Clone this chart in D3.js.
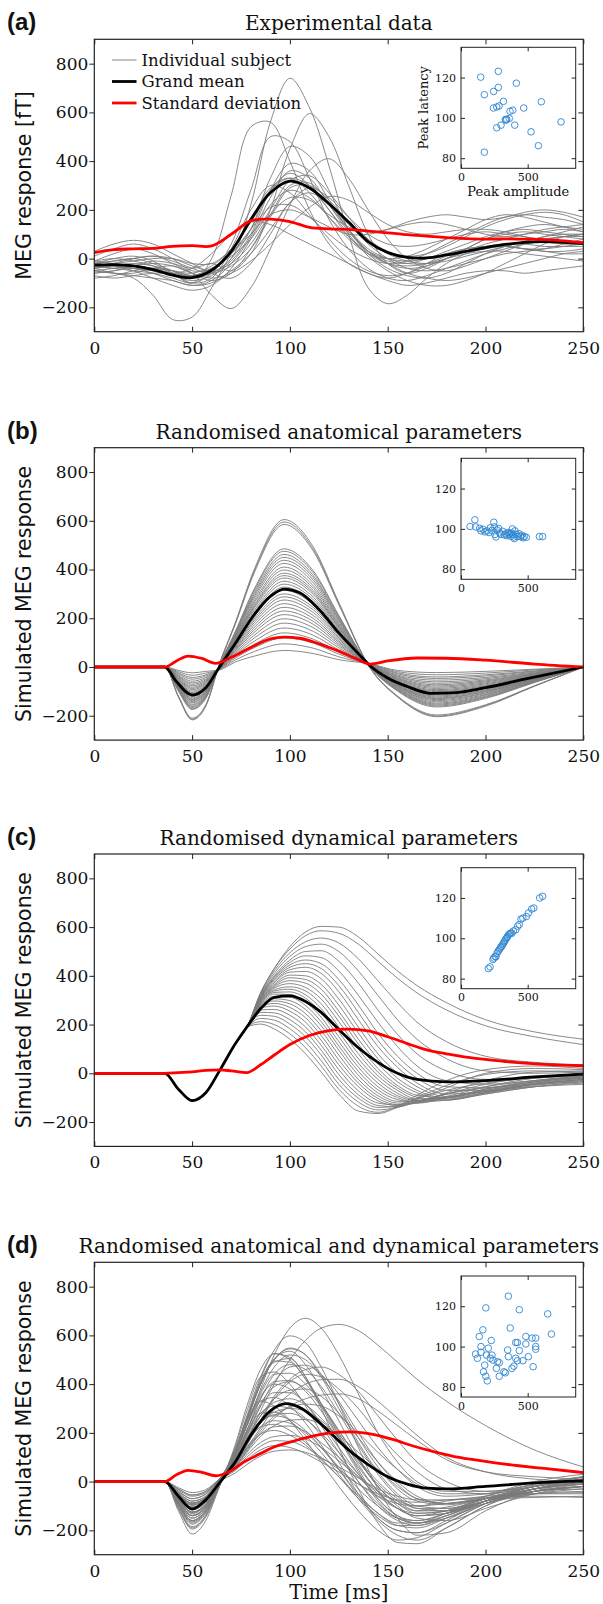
<!DOCTYPE html>
<html>
<head>
<meta charset="utf-8">
<script src="https://cdnjs.cloudflare.com/ajax/libs/d3/7.8.5/d3.min.js"></script>
<style>
  body { margin: 0; background: #fff; }
  svg text { fill: #111; }
</style>
</head>
<body>
<svg id="fig" width="603" height="1604"></svg>
<script>
// ---------- data ----------
const xTicks = [0, 50, 100, 150, 200, 250];
const yTicks = [-200, 0, 200, 400, 600, 800];
const insetXTicks = [0, 500];
const insetYTicks = [80, 100, 120];

// (a) experimental data, one row per subject, sampled every 10 ms
const timeA = [0,10,20,30,40,50,60,70,80,90,100,110,120,130,140,150,160,170,180,190,200,210,220,230,240,250];
const subjectsA = [
  [-40,-30,-20,-30,-50,-70,-60,0,220,560,740,620,380,100,-120,-185,-150,-80,-20,20,40,50,40,30,30,40],
  [-60,-50,-30,-10,-20,-40,-20,-50,20,200,450,595,500,300,100,-20,-60,-40,0,40,80,100,110,100,90,80],
  [-20,0,10,-10,-60,-100,0,260,540,560,400,200,60,-20,-60,-80,-60,-20,20,40,50,50,40,30,20,20],
  [-10,20,40,20,-20,-60,-150,-205,-120,40,220,360,410,330,200,80,0,-40,-50,-30,0,30,60,80,90,90],
  [-40,-60,-80,-150,-250,-240,-120,20,160,280,330,300,220,120,40,0,-20,-20,0,20,30,30,20,10,0,-10],
  [-30,-40,-50,-60,-80,-100,-60,60,280,500,480,330,160,40,-40,-80,-90,-70,-40,-10,20,40,60,70,70,60],
  [-20,-10,0,-20,-50,-80,-60,0,120,330,460,420,280,120,20,-40,-70,-80,-60,-20,20,50,70,90,100,100],
  [-60,-50,-40,-50,-70,-90,-70,-10,100,280,390,360,240,120,30,-20,-40,-30,0,30,50,60,60,50,50,50],
  [10,40,60,40,0,-50,-40,20,120,280,350,300,200,90,20,-20,-30,-20,10,40,80,110,130,140,130,120],
  [-70,-80,-70,-60,-60,-70,-40,10,80,200,320,340,270,170,80,30,10,20,50,90,130,160,180,190,180,150],
  [-30,-20,-10,0,0,-20,-20,40,160,290,330,270,170,80,20,0,10,40,80,120,160,180,170,150,130,110],
  [-50,-60,-60,-40,-30,-60,-90,-60,40,180,300,310,230,120,30,-20,-60,-80,-90,-80,-60,-40,-20,0,20,30],
  [-10,0,-10,-30,-60,-100,-80,40,200,300,270,180,80,0,-50,-70,-60,-30,0,30,60,80,100,120,130,140],
  [-40,-30,-40,-60,-90,-110,-100,-50,20,120,230,290,250,170,100,60,50,60,80,100,110,100,90,80,90,100],
  [-20,-30,-50,-80,-110,-130,-110,-40,80,220,280,250,170,90,30,0,-10,0,20,40,50,50,40,40,50,60],
  [-30,-40,-30,-20,-30,-60,-80,-60,-10,60,140,210,255,240,190,140,110,100,110,120,120,110,90,70,60,60],
  [-80,-70,-50,-40,-50,-70,-50,20,120,210,220,170,100,40,0,-20,-10,20,60,100,140,170,180,170,160,140],
  [-50,-40,-30,-40,-60,-70,-40,20,100,180,200,170,130,100,100,120,150,170,180,170,160,170,190,200,190,170],
  [-20,-30,-40,-50,-60,-40,20,100,150,140,100,60,20,-20,-60,-90,-110,-100,-80,-60,-50,-50,-60,-50,-40,-30],
  [30,60,75,60,20,-20,-60,-80,-20,100,230,270,220,140,60,0,-40,-50,-40,-20,0,20,30,40,60,80],
  [-10,-20,-30,-40,-50,-60,-30,40,150,270,320,290,200,100,10,-50,-90,-110,-110,-90,-60,-20,20,60,90,100],
  [-20,-10,0,10,0,-30,-50,-20,60,180,250,240,180,130,110,120,140,150,140,120,100,90,100,110,120,110],
  [-50,-60,-70,-80,-90,-110,-90,-20,90,250,360,330,220,110,30,-10,-20,0,30,60,90,110,120,110,100,90],
  [-40,-20,0,10,-10,-40,-60,-30,40,170,290,300,240,150,70,20,-10,-20,-10,10,30,50,70,90,110,130]
];
const meanA = [-27,-25,-30,-45,-68,-78,-48,30,160,270,318,290,225,150,70,25,5,3,15,30,45,58,67,70,67,62];
const sdA = [25,37,40,42,50,53,52,100,155,162,152,128,122,120,113,106,98,92,86,82,80,81,80,78,73,65];
const peaksA = [[148,120.2],[280,123.1],[175,111.5],[245,113.1],[280,115.1],[415,117.2],[243,104.9],[268,105.4],
  [285,105.9],[318,108.2],[602,108],[470,104.9],[368,103.3],[388,103.8],[333,99.2],[343,99.3],[337,98.9],
  [362,99.7],[300,96.4],[268,95.1],[403,96.4],[525,93.1],[750,98],[580,86.2],[175,83]];

// (b) randomised anatomical parameters
const timeB = [0,36,43,50,57,64,72,82,97,112,125,141,155,175,200,225,250];
const subjectsB = [
  [0,0,-123,-217,-161,13,180,405,605,492,265,-4,-123,-204,-161,-79,0],
  [0,0,-121,-214,-158,13,177,398,595,483,260,-4,-121,-201,-158,-78,0],
  [0,0,-119,-210,-155,12,174,391,585,475,256,-3,-119,-197,-155,-77,0],
  [0,0,-99,-174,-129,8,144,324,485,394,212,0,-99,-164,-129,-64,0],
  [0,0,-96,-171,-126,7,141,318,475,386,208,0,-96,-160,-126,-62,0],
  [0,0,-94,-166,-123,7,137,309,462,375,202,1,-94,-156,-123,-61,0],
  [0,0,-91,-162,-120,6,134,301,450,366,197,1,-91,-152,-120,-59,0],
  [0,0,-89,-157,-116,6,130,293,438,356,192,1,-89,-148,-116,-57,0],
  [0,0,-86,-153,-113,5,126,284,425,345,186,2,-86,-143,-113,-56,0],
  [0,0,-83,-147,-109,4,122,274,410,333,179,2,-83,-138,-109,-54,0],
  [0,0,-81,-143,-106,4,118,266,398,323,174,3,-81,-134,-106,-52,0],
  [0,0,-78,-138,-102,3,114,257,385,313,168,3,-78,-130,-102,-51,0],
  [0,0,-76,-135,-100,3,111,251,375,305,164,3,-76,-127,-100,-49,0],
  [0,0,-74,-131,-97,2,108,244,365,297,160,4,-74,-123,-97,-48,0],
  [0,0,-72,-127,-94,2,105,235,352,286,154,4,-72,-119,-94,-46,0],
  [0,0,-69,-122,-90,1,101,227,340,276,149,4,-69,-115,-90,-45,0],
  [0,0,-67,-118,-87,0,97,219,328,267,144,5,-67,-111,-87,-43,0],
  [0,0,-64,-113,-84,0,93,211,315,256,138,5,-64,-106,-84,-41,0],
  [0,0,-61,-108,-80,-1,89,201,300,244,131,6,-61,-101,-80,-39,0],
  [0,0,-59,-104,-77,-2,86,193,288,234,126,6,-59,-97,-77,-38,0],
  [0,0,-56,-99,-73,-2,82,184,275,223,120,6,-56,-93,-73,-36,0],
  [0,0,-53,-93,-69,-3,77,174,260,211,114,7,-53,-88,-69,-34,0],
  [0,0,-50,-88,-65,-4,73,164,245,199,107,7,-50,-83,-65,-32,0],
  [0,0,-47,-83,-61,-4,68,154,230,187,101,8,-47,-78,-61,-30,0],
  [0,0,-44,-77,-57,-5,64,144,215,175,94,8,-44,-73,-57,-28,0],
  [0,0,-40,-71,-53,-6,59,132,198,161,87,9,-40,-67,-53,-26,0],
  [0,0,-37,-65,-48,-7,53,120,180,146,79,9,-37,-61,-48,-24,0],
  [0,0,-33,-58,-43,-8,48,107,160,130,70,10,-33,-54,-43,-21,0],
  [0,0,-28,-50,-37,-8,42,94,140,114,61,11,-28,-47,-37,-18,0],
  [0,0,-24,-43,-32,-9,36,80,120,98,53,11,-24,-41,-32,-16,0],
  [0,0,-19,-34,-25,-11,28,64,95,77,42,12,-19,-32,-25,-12,0],
  [0,0,-14,-24,-18,-12,20,45,68,55,30,13,-14,-23,-18,-9,0]
];
const meanTimeB = [0,36,42,50,57,64,72,80,90,97,105,115,125,135,141,150,160,172,185,200,220,250];
const meanB = [0,0,-60,-115,-85,0,95,195,290,320,305,235,140,55,5,-45,-80,-108,-105,-85,-50,0];
const sdTimeB = [0,36,42,48,55,62,70,80,90,97,105,115,125,135,141,150,165,180,200,225,250];
const sdB = [0,0,25,45,35,15,40,80,115,123,118,95,65,30,12,25,37,36,28,12,0];
const peaksB = [[68,101.2],[104,104.5],[110,101],[140,100.3],[150,99],[165,99.8],[180,98.5],[195,99],[210,98.2],
  [220,100.5],[232,99.2],[246,103.3],[250,101],[255,97.2],[262,96],[270,99.5],[282,100.2],[290,98],[300,97.3],
  [312,98.8],[325,97],[335,97.6],[345,96.6],[352,98.2],[360,97.2],[366,97.8],[372,96.3],[378,98],[385,100],
  [390,97.2],[396,96],[400,95.2],[405,99],[415,97.3],[425,96.2],[435,97.6],[445,96.2],[455,96.8],[465,95.6],
  [475,96.2],[490,95.8],[588,96.2],[612,96.2]];

// (c) randomised dynamical parameters
const timeC = [0,36,43,50,57,64,72,78,85,92,100,108,116,125,135,145,155,165,180,200,225,250];
const subjectsC = [
  [0,0,-64,-111,-79,11,120,190,330,430,520,580,603,600,560,490,420,360,290,220,170,140],
  [0,0,-65,-112,-80,10,119,189,330,430,510,565,585,575,530,460,390,330,260,195,150,118],
  [0,0,-66,-113,-81,9,118,188,325,420,495,540,555,535,470,380,290,210,130,70,45,35],
  [0,0,-65,-112,-80,10,118,188,320,410,480,520,530,500,420,320,220,140,60,10,0,5],
  [0,0,-64,-111,-79,11,119,189,318,400,465,500,503,460,370,260,160,80,10,-25,-20,-5],
  [0,0,-65,-112,-80,10,118,188,315,395,455,482,475,420,320,210,110,30,-30,-45,-30,-10],
  [0,0,-66,-113,-81,9,117,187,312,390,445,465,450,385,280,165,70,0,-55,-60,-35,-15],
  [0,0,-65,-112,-80,10,118,188,310,385,435,450,430,360,250,135,45,-20,-70,-70,-40,-20],
  [0,0,-64,-111,-79,11,119,189,308,378,425,435,410,335,220,110,25,-40,-85,-75,-45,-25],
  [0,0,-65,-112,-80,10,118,188,305,372,415,418,388,305,190,80,0,-55,-95,-75,-40,-20],
  [0,0,-66,-113,-81,9,117,187,302,365,403,400,365,280,165,60,-20,-70,-100,-80,-45,-25],
  [0,0,-65,-112,-80,10,118,188,300,360,392,385,345,255,140,40,-35,-80,-105,-80,-50,-30],
  [0,0,-64,-111,-79,11,119,189,298,355,380,370,325,235,120,20,-50,-90,-100,-70,-35,-15],
  [0,0,-65,-112,-80,10,118,188,295,350,368,352,305,212,100,5,-60,-98,-110,-85,-55,-35],
  [0,0,-66,-113,-81,9,117,187,292,343,355,338,285,190,80,-10,-70,-105,-100,-65,-30,-10],
  [0,0,-65,-112,-80,10,118,188,290,338,345,322,265,170,60,-25,-82,-110,-110,-80,-45,-25],
  [0,0,-64,-111,-79,11,119,189,287,332,334,308,248,150,42,-40,-92,-112,-95,-55,-20,0],
  [0,0,-65,-112,-80,10,118,188,284,325,323,293,230,130,25,-55,-100,-118,-110,-85,-55,-40],
  [0,0,-66,-113,-81,9,117,187,281,315,312,278,212,112,8,-68,-108,-118,-100,-65,-35,-15],
  [0,0,-65,-112,-80,10,118,188,278,306,298,262,195,95,-8,-80,-115,-115,-80,-30,5,10],
  [0,0,-64,-111,-79,11,119,189,275,297,285,245,175,75,-25,-92,-122,-123,-100,-70,-45,-30],
  [0,0,-65,-112,-80,10,118,188,272,287,270,228,155,55,-40,-103,-128,-118,-85,-45,-15,-5],
  [0,0,-66,-113,-81,9,117,187,268,276,255,210,135,35,-55,-113,-132,-122,-100,-75,-55,-45],
  [0,0,-65,-112,-80,10,118,188,260,262,238,190,115,15,-72,-122,-130,-105,-60,0,20,15],
  [0,0,-64,-111,-79,11,119,189,250,248,220,170,95,-5,-88,-132,-138,-116,-85,-55,-30,-20],
  [0,0,-65,-112,-80,10,118,188,238,234,202,150,75,-25,-102,-140,-135,-100,-50,-5,10,5],
  [0,0,-66,-113,-81,9,117,187,225,218,183,128,52,-45,-118,-150,-140,-115,-85,-60,-45,-35],
  [0,0,-65,-112,-80,10,118,188,212,200,162,105,30,-65,-135,-160,-135,-90,-30,15,30,20],
  [0,0,-64,-111,-79,11,119,189,202,182,140,80,5,-85,-155,-165,-140,-105,-70,-40,-20,-10]
];
const meanTimeC = [0,36,43,50,57,64,72,78,85,92,100,108,116,125,135,145,155,165,180,200,225,250];
const meanC = [0,0,-65,-112,-80,10,120,190,265,312,318,295,250,180,105,45,0,-25,-35,-30,-15,-3];
const sdTimeC = [0,36,43,50,57,64,70,78,85,92,100,110,120,130,140,150,160,170,180,190,200,215,230,250];
const sdC = [0,0,3,6,12,14,10,3,35,75,118,155,175,181,174,150,122,96,80,66,57,45,37,31];
const peaksC = [[205,85],[218,85.8],[240,89.5],[246,90.2],[255,91],[262,90.8],[270,92.5],[278,93.5],[285,94.2],
  [292,94.8],[298,95.6],[305,96],[312,96.8],[318,97.6],[325,98.2],[330,99],[338,99.8],[345,100.4],[350,101],
  [358,101.8],[365,102.2],[372,102.6],[382,102.5],[392,103.6],[410,104.2],[425,106],[437,106.8],[450,109.5],
  [464,110],[490,110.8],[505,112.5],[530,114.5],[546,115],[590,120],[612,120.8]];

// (d) randomised anatomical and dynamical parameters
const timeD = [0,36,43,50,57,64,72,78,85,92,100,108,116,125,135,145,155,165,180,200,225,250];
const subjectsD = [
  [0,0,-78,-138,-100,5,110,230,380,520,630,670,630,520,360,200,80,0,-40,-40,-15,10],
  [0,0,-60,-105,-78,0,80,170,290,400,500,580,630,645,620,560,490,420,330,230,130,60],
  [0,0,-85,-150,-110,0,130,260,400,500,545,520,440,320,180,60,-30,-80,-95,-70,-30,0],
  [0,0,-95,-170,-125,-10,120,250,400,505,535,480,380,250,100,-20,-90,-120,-105,-70,-30,-10],
  [0,0,-110,-195,-145,-20,150,310,460,525,500,420,310,180,40,-80,-150,-170,-140,-80,-30,-5],
  [0,0,-60,-105,-80,10,120,240,370,470,520,500,430,330,200,80,-10,-70,-90,-60,-10,20],
  [0,0,-70,-125,-92,0,125,260,410,495,490,420,320,200,70,-40,-110,-140,-120,-70,-20,10],
  [0,0,-50,-90,-65,10,90,190,310,410,470,478,440,360,250,140,50,-20,-60,-50,-10,20],
  [0,0,-120,-215,-160,-20,140,290,430,450,400,310,200,80,-50,-150,-200,-210,-160,-80,-20,10],
  [0,0,-75,-130,-95,0,110,230,360,440,445,400,320,210,90,-20,-90,-130,-120,-60,0,30],
  [0,0,-40,-70,-50,10,70,150,250,340,410,440,430,380,300,200,110,40,-30,-50,-20,10],
  [0,0,-55,-95,-70,5,70,140,220,300,360,400,418,420,390,330,260,190,100,40,10,0],
  [0,0,-80,-140,-105,-5,100,210,320,390,410,380,310,210,90,-20,-100,-150,-160,-110,-50,-20],
  [0,0,-65,-115,-85,0,110,230,350,400,380,320,230,120,0,-100,-160,-180,-150,-90,-40,-10],
  [0,0,-50,-88,-65,5,80,170,270,340,375,380,350,280,180,80,0,-60,-90,-70,-30,0],
  [0,0,-90,-160,-118,-10,95,200,310,365,365,320,240,140,30,-70,-140,-170,-150,-90,-40,-20],
  [0,0,-45,-80,-60,5,60,125,200,260,310,340,355,360,340,290,230,170,90,40,20,10],
  [0,0,-100,-175,-130,-15,110,230,330,345,310,240,150,50,-60,-150,-200,-210,-170,-90,-30,0],
  [0,0,-60,-105,-78,0,85,180,270,325,340,315,260,180,80,-10,-80,-120,-120,-80,-40,-20],
  [0,0,-110,-190,-140,-15,130,250,330,310,250,170,80,-20,-120,-200,-240,-230,-170,-90,-30,0],
  [0,0,-35,-60,-45,10,60,130,210,270,305,318,310,270,200,120,50,-10,-50,-50,-20,10],
  [0,0,-80,-140,-105,-5,95,190,280,310,300,260,190,100,0,-90,-150,-170,-140,-80,-30,0],
  [0,0,-70,-125,-92,0,75,160,240,285,300,290,250,180,90,0,-70,-110,-110,-70,-30,-10],
  [0,0,-90,-160,-118,-10,100,200,280,285,250,190,120,30,-70,-160,-220,-240,-190,-100,-40,-20],
  [0,0,-55,-95,-70,5,75,160,240,275,280,255,200,120,30,-50,-110,-140,-130,-90,-50,-30],
  [0,0,-75,-130,-96,-5,85,175,250,270,255,210,140,50,-50,-130,-180,-190,-150,-80,-20,10],
  [0,0,-30,-55,-40,10,60,120,185,230,252,255,235,190,120,50,-20,-70,-90,-70,-40,-20],
  [0,0,-60,-105,-78,-5,80,160,225,235,210,160,95,20,-70,-140,-180,-180,-140,-80,-40,-30],
  [0,0,-45,-80,-60,5,65,135,195,225,228,205,160,100,20,-60,-110,-130,-120,-80,-40,-20],
  [0,0,-80,-140,-104,-10,70,140,195,210,190,150,90,20,-60,-130,-170,-170,-130,-80,-50,-40],
  [0,0,-50,-88,-65,0,55,110,160,185,190,175,140,85,20,-40,-80,-100,-90,-70,-50,-45],
  [0,0,-30,-55,-40,10,50,100,145,168,165,140,100,50,-10,-60,-90,-100,-80,-60,-50,-50],
  [0,0,-25,-45,-33,10,45,90,130,148,140,115,80,40,-10,-50,-75,-85,-75,-65,-60,-65],
  [0,0,-40,-70,-52,0,35,70,105,125,130,120,95,60,15,-30,-60,-75,-75,-70,-65,-60],
  [0,0,-105,-185,-138,-10,120,260,420,540,598,570,470,320,140,-30,-150,-220,-210,-120,-40,0],
  [0,0,-50,-90,-65,5,70,150,250,350,420,460,470,440,370,270,170,80,0,-40,-20,20],
  [0,0,-85,-150,-110,-5,120,250,400,490,505,430,300,140,-30,-170,-250,-255,-190,-100,-30,10],
  [0,0,-70,-125,-92,0,120,250,400,500,548,520,430,300,160,40,-50,-100,-110,-80,-30,10],
  [0,0,-95,-165,-122,-10,130,270,430,525,510,430,320,190,50,-70,-140,-160,-130,-70,-20,20],
  [0,0,-55,-98,-72,5,100,210,340,440,480,460,390,280,150,30,-60,-110,-120,-80,-30,0],
  [0,0,-90,-160,-118,-10,100,210,340,410,415,370,290,180,60,-40,-110,-140,-130,-80,-30,-10],
  [0,0,-65,-115,-85,0,80,160,225,250,240,200,140,60,-30,-100,-150,-160,-130,-80,-30,0]
];
const meanTimeD = [0,36,43,50,57,64,72,80,90,98,106,114,122,130,140,150,160,170,180,200,225,250];
const meanD = [0,0,-60,-113,-75,-5,80,190,290,320,300,250,190,130,70,20,-10,-27,-30,-20,-5,3];
const sdTimeD = [0,36,42,48,55,62,70,76,85,91,100,111,121,131,143,153,163,173,183,194,204,217,230,250];
const sdD = [0,0,28,46,38,24,45,78,115,139,162,186,200,204,193,172,146,124,105,90,78,65,54,37];
const peaksD = [[109,96.3],[123,94.2],[137,105],[150,100],[150,97.2],[164,108.3],[169,87.5],[178,90.8],
  [186,119.2],[186,85.3],[197,83],[191,95.8],[205,99.2],[219,94.2],[227,103],[232,95.8],[240,93.3],[265,89.2],
  [273,92.5],[287,92],[287,85.3],[322,87.5],[333,87],[350,98.3],[355,125],[355,95],[369,109.2],[382,89.2],
  [396,90.3],[410,94.2],[410,102],[423,102],[423,93],[437,118.3],[437,98],[464,93],[486,105],[486,101.3],
  [505,95],[533,104.2],[541,90],[560,104.2],[560,100],[560,98.7],[650,116.2],[678,106.2]];

// ---------- layout ----------
const svg = d3.select('#fig');
const X0 = 94.3, X1 = 583.3, PH = 292.4;
const IX0 = 461, IX1 = 575.7, IH = 121;
const serif = 'DejaVu Serif', sans = 'DejaVu Sans';

const panels = [
  { tag: '(a)', title: 'Experimental data', top: 39.3, ylabel: 'MEG response [fT]',
    times: timeA, subjects: subjectsA, meanT: timeA, mean: meanA, sdT: timeA, sd: sdA,
    peaks: peaksA, insetTop: 47.3, legend: true, insetLabels: true, smooth: d3.curveCatmullRom },
  { tag: '(b)', title: 'Randomised anatomical parameters', top: 447.7, ylabel: 'Simulated MEG response',
    times: timeB, subjects: subjectsB, meanT: meanTimeB, mean: meanB, sdT: sdTimeB, sd: sdB,
    peaks: peaksB, insetTop: 458.3, smooth: d3.curveMonotoneX },
  { tag: '(c)', title: 'Randomised dynamical parameters', top: 854, ylabel: 'Simulated MEG response',
    times: timeC, subjects: subjectsC, meanT: meanTimeC, mean: meanC, sdT: sdTimeC, sd: sdC,
    peaks: peaksC, insetTop: 867.7, smooth: d3.curveMonotoneX },
  { tag: '(d)', title: 'Randomised anatomical and dynamical parameters', top: 1262.3, ylabel: 'Simulated MEG response',
    times: timeD, subjects: subjectsD, meanT: meanTimeD, mean: meanD, sdT: sdTimeD, sd: sdD,
    peaks: peaksD, insetTop: 1276, xlabel: 'Time [ms]', smooth: d3.curveMonotoneX }
];

function styleTicks(g, size) {
  g.select('.domain').remove();
  g.selectAll('.tick line').attr('stroke', '#222').attr('stroke-width', 1);
  g.selectAll('.tick text').attr('font-family', serif).attr('font-size', size).attr('fill', '#111');
}

function drawPanel(p, i) {
  const g = svg.append('g');
  const bottom = p.top + PH;
  const x = d3.scaleLinear().domain([0, 250]).range([X0, X1]);
  const y = d3.scaleLinear().domain([-300, 900]).range([bottom, p.top]);

  svg.append('clipPath').attr('id', 'clip' + i)
    .append('rect').attr('x', X0).attr('y', p.top).attr('width', X1 - X0).attr('height', PH);

  const lineFor = (ts, curve) => d3.line()
    .x((d, j) => x(ts[j]))
    .y(d => y(d))
    .curve(curve);

  const plot = g.append('g').attr('clip-path', `url(#clip${i})`);
  plot.selectAll('path.subject')
    .data(p.subjects)
    .join('path')
    .attr('class', 'subject')
    .attr('d', lineFor(p.times, p.smooth))
    .attr('fill', 'none')
    .attr('stroke', '#7c7c7c')
    .attr('stroke-width', 0.9);
  plot.append('path').datum(p.mean)
    .attr('d', lineFor(p.meanT, p.smooth))
    .attr('fill', 'none').attr('stroke', '#000').attr('stroke-width', 2.8);
  plot.append('path').datum(p.sd)
    .attr('d', lineFor(p.sdT, p.smooth))
    .attr('fill', 'none').attr('stroke', '#ff0000').attr('stroke-width', 2.8);

  // axes: left ticks out with labels, other sides ticks in
  g.append('g').attr('transform', `translate(${X0},0)`)
    .call(d3.axisLeft(y).tickValues(yTicks).tickSize(5).tickPadding(1))
    .call(a => styleTicks(a, 17));
  g.append('g').attr('transform', `translate(${X1},0)`)
    .call(d3.axisLeft(y).tickValues(yTicks).tickSize(5).tickFormat(''))
    .call(a => styleTicks(a, 17));
  g.append('g').attr('transform', `translate(0,${bottom})`)
    .call(d3.axisTop(x).tickValues(xTicks).tickSize(5).tickFormat(''))
    .call(a => styleTicks(a, 17));
  g.append('g').attr('transform', `translate(0,${bottom})`)
    .call(d3.axisBottom(x).tickValues(xTicks).tickSize(0).tickPadding(10))
    .call(a => styleTicks(a, 17));
  g.append('g').attr('transform', `translate(0,${p.top})`)
    .call(d3.axisBottom(x).tickValues(xTicks).tickSize(5).tickFormat(''))
    .call(a => styleTicks(a, 17));
  g.append('rect')
    .attr('x', X0).attr('y', p.top).attr('width', X1 - X0).attr('height', PH)
    .attr('fill', 'none').attr('stroke', '#222').attr('stroke-width', 1.2);

  // titles and labels
  g.append('text').text(p.title)
    .attr('x', (X0 + X1) / 2).attr('y', p.top - 9)
    .attr('text-anchor', 'middle').attr('font-family', serif).attr('font-size', 20);
  g.append('text').text(p.tag)
    .attr('x', 7).attr('y', p.top - 9)
    .attr('font-family', 'Liberation Sans').attr('font-weight', 'bold').attr('font-size', 24);
  g.append('text').text(p.ylabel)
    .attr('transform', `translate(26,${p.top + PH / 2}) rotate(-90)`)
    .attr('dy', '0.25em')
    .attr('text-anchor', 'middle').attr('font-family', sans).attr('font-size', 20.5);
  if (p.xlabel) {
    g.append('text').text(p.xlabel)
      .attr('x', (X0 + X1) / 2).attr('y', bottom + 44)
      .attr('text-anchor', 'middle').attr('font-family', serif).attr('font-size', 19.5);
  }

  if (p.legend) {
    const items = [
      { name: 'Individual subject', color: '#7c7c7c', w: 0.9 },
      { name: 'Grand mean', color: '#000', w: 2.8 },
      { name: 'Standard deviation', color: '#ff0000', w: 2.8 }
    ];
    const lg = g.append('g');
    items.forEach((it, k) => {
      const ly = p.top + 20.7 + k * 21.5;
      lg.append('line').attr('x1', 112).attr('x2', 136.5).attr('y1', ly).attr('y2', ly)
        .attr('stroke', it.color).attr('stroke-width', it.w);
      lg.append('text').text(it.name).attr('x', 141.5).attr('y', ly).attr('dy', '0.35em')
        .attr('font-family', serif).attr('font-size', 16.5);
    });
  }

  drawInset(g, p);
}

function drawInset(g, p) {
  const top = p.insetTop, bot = p.insetTop + IH;
  const ix = d3.scaleLinear().domain([0, 860]).range([IX0, IX1]);
  const iy = d3.scaleLinear().domain([75, 135]).range([bot, top]);
  const ig = g.append('g');
  ig.append('rect').attr('x', IX0).attr('y', top).attr('width', IX1 - IX0).attr('height', IH)
    .attr('fill', '#fff');

  ig.selectAll('circle')
    .data(p.peaks)
    .join('circle')
    .attr('cx', d => ix(d[0]))
    .attr('cy', d => iy(d[1]))
    .attr('r', 3.3)
    .attr('fill', 'none')
    .attr('stroke', '#2f86d0')
    .attr('stroke-width', 0.9);

  ig.append('g').attr('transform', `translate(${IX0},0)`)
    .call(d3.axisRight(iy).tickValues(insetYTicks).tickSize(4).tickFormat(''))
    .call(a => styleTicks(a, 11));
  ig.append('g').attr('transform', `translate(${IX0},0)`)
    .call(d3.axisLeft(iy).tickValues(insetYTicks).tickSize(0).tickPadding(5))
    .call(a => styleTicks(a, 11));
  ig.append('g').attr('transform', `translate(${IX1},0)`)
    .call(d3.axisLeft(iy).tickValues(insetYTicks).tickSize(4).tickFormat(''))
    .call(a => styleTicks(a, 11));
  ig.append('g').attr('transform', `translate(0,${bot})`)
    .call(d3.axisTop(ix).tickValues(insetXTicks).tickSize(4).tickFormat(''))
    .call(a => styleTicks(a, 11));
  ig.append('g').attr('transform', `translate(0,${bot})`)
    .call(d3.axisBottom(ix).tickValues(insetXTicks).tickSize(0).tickPadding(5))
    .call(a => styleTicks(a, 11));
  ig.append('g').attr('transform', `translate(0,${top})`)
    .call(d3.axisBottom(ix).tickValues(insetXTicks).tickSize(4).tickFormat(''))
    .call(a => styleTicks(a, 11));
  ig.append('rect').attr('x', IX0).attr('y', top).attr('width', IX1 - IX0).attr('height', IH)
    .attr('fill', 'none').attr('stroke', '#222').attr('stroke-width', 1);

  if (p.insetLabels) {
    ig.append('text').text('Peak latency')
      .attr('transform', `translate(428,${(top + bot) / 2}) rotate(-90)`)
      .attr('text-anchor', 'middle').attr('font-family', serif).attr('font-size', 13);
    ig.append('text').text('Peak amplitude')
      .attr('x', (IX0 + IX1) / 2).attr('y', bot + 28)
      .attr('text-anchor', 'middle').attr('font-family', serif).attr('font-size', 13);
  }
}

panels.forEach(drawPanel);
</script>
</body>
</html>
